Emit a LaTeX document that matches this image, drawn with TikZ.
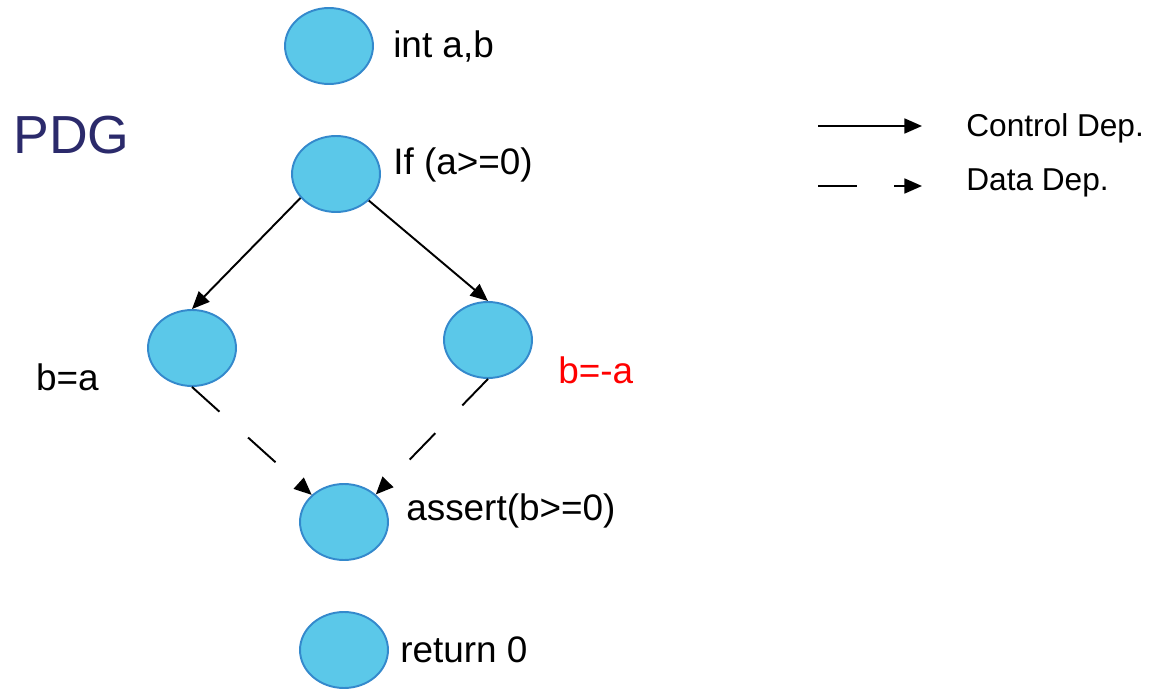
\documentclass[tikz,border=0pt]{standalone}
\usepackage{fontspec}
\setmainfont{Liberation Sans}
\usepackage{tikz}
\usetikzlibrary{shapes.geometric, arrows.meta, positioning}
\definecolor{nodefill}{HTML}{5BC8E9}
\definecolor{nodeedge}{HTML}{3489CC}
\definecolor{pdgblue}{HTML}{2B2A6B}
\tikzset{
  stmt/.style = {
    ellipse, draw=nodeedge, line width=1.1pt, fill=nodefill,
    minimum width=1.76cm, minimum height=1.52cm, inner sep=0pt
  },
  code/.style = {
    inner sep=0pt, font=\fontsize{21}{25}\selectfont
  },
  legend/.style = {
    inner sep=0pt, anchor=west, font=\fontsize{18}{22}\selectfont
  },
  ctrlarrow/.style = {-{Triangle[length=10pt, width=8.5pt]}, line width=1.1pt},
  dataarrow/.style = {-{Triangle[length=10pt, width=8.5pt]}, line width=1.1pt,
    dash pattern=on 21pt off 22pt}
}
\begin{document}
\begin{tikzpicture}[x=0.02cm, y=-0.02cm]
  \useasboundingbox (0,0) rectangle (1161,692);

  % Statements
  \node[stmt] (INIT)   at (329,46)  {};
  \node[stmt] (IF)     at (336,174) {};
  \node[stmt] (THEN)   at (192,348) {};
  \node[stmt] (ELSE)   at (488,340) {};
  \node[stmt] (ASSERT) at (344,522) {};
  \node[stmt] (RET)    at (344,650) {};

  % Code labels
  \node[code, right=0.38cm of INIT] (tINIT) {int a,b};
  \node[code, right=0.24cm of IF, yshift=0.18cm] (tIF) {If (a>=0)};
  \node[code, left=0.96cm of THEN, yshift=-0.58cm] (tTHEN) {b=a};
  \node[code, right=0.5cm of ELSE, yshift=-0.6cm, text=red] (tELSE) {b=-a};
  \node[code, right=0.34cm of ASSERT, yshift=0.22cm] (tASSERT) {assert(b>=0)};
  \node[code, right=0.22cm of RET] (tRET) {return 0};

  % Title
  \node[inner sep=0pt, anchor=west, text=pdgblue,
        font=\fontsize{30.5}{35}\selectfont] (title) at (13,135) {PDG};

  % Control dependences
  \draw[ctrlarrow] (IF.214) -- (THEN.north);
  \draw[ctrlarrow] (IF.321) -- (ELSE.north);

  % Data dependences
  \draw[dataarrow] (THEN.south) -- (ASSERT.140);
  \draw[dataarrow] (ELSE.south) -- (ASSERT.north east);

  % Legend
  \coordinate (c1) at (818,126);
  \coordinate (c2) at (922,126);
  \coordinate (d1) at (818,186);
  \coordinate (d2) at (922,186);
  \draw[ctrlarrow] (c1) -- (c2);
  \draw[dataarrow, dash pattern=on 22pt off 21.5pt] (d1) -- (d2);
  \node[legend] (lctrl) at (966,128) {Control Dep.};
  \node[legend] (ldata) at (966,183) {Data Dep.};
\end{tikzpicture}
\end{document}
